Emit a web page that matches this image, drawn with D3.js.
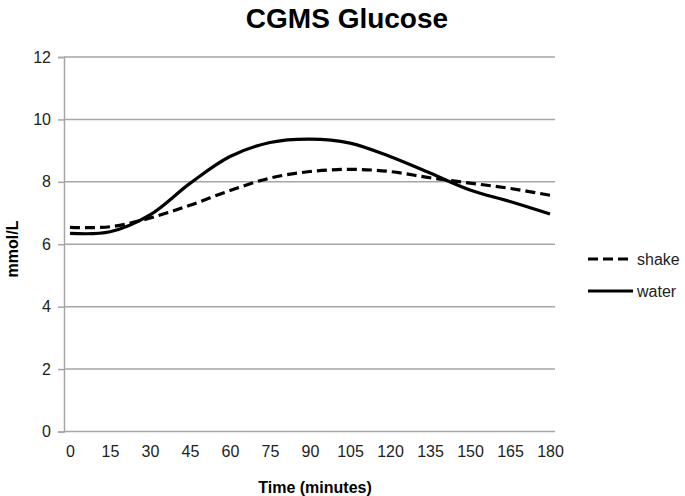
<!DOCTYPE html>
<html><head><meta charset="utf-8">
<script src="https://cdn.jsdelivr.net/npm/d3@7"></script>
<style>body{margin:0;background:#fff}svg{display:block}text{font-family:"Liberation Sans",Arial,sans-serif}</style>
</head><body>
<script>
const times = [0,15,30,45,60,75,90,105,120,135,150,165,180];
const shake = [6.54,6.56,6.84,7.25,7.72,8.12,8.33,8.4,8.33,8.13,7.96,7.79,7.57];
const water = [6.35,6.40,6.94,7.95,8.81,9.26,9.37,9.24,8.81,8.28,7.74,7.37,6.97];
const yTicks = [0,2,4,6,8,10,12];
const seriesNames = ["shake","water"];

const W=685,H=496;
const svg=d3.select("body").append("svg").attr("width",W).attr("height",H);
const plotL=64, plotR=555, plotT=57, plotB=431.5;
const x=d3.scaleLinear().domain([0,180]).range([70,550]);
const y=d3.scaleLinear().domain([0,12]).range([plotB,plotT]);
const grid="#a6a6a6";
const font="Liberation Sans, Arial, sans-serif";

svg.append("g").selectAll("line").data(yTicks).join("line")
  .attr("x1",plotL).attr("x2",plotR).attr("y1",d=>y(d)).attr("y2",d=>y(d))
  .attr("stroke",grid).attr("stroke-width",1.5);

const yAxis=d3.axisLeft(y).tickValues(yTicks).tickSize(6).tickPadding(7);
const gy=svg.append("g").attr("transform",`translate(${plotL},0)`).call(yAxis);
gy.select(".domain").attr("stroke",grid).attr("stroke-width",1.5);
gy.selectAll(".tick line").attr("stroke",grid).attr("stroke-width",1.5);
gy.selectAll("text").attr("font-size",16).attr("fill","#222").style("font-family",font);

const xAxis=d3.axisBottom(x).tickValues(times).tickSize(0).tickPadding(14);
const gx=svg.append("g").attr("transform",`translate(0,${plotB})`).call(xAxis);
gx.select(".domain").remove();
gx.selectAll("text").attr("font-size",16).attr("fill","#222").style("font-family",font);

const line=d3.line().x((d,i)=>x(times[i])).y(d=>y(d)).curve(d3.curveCatmullRom.alpha(0.5));
svg.append("path").datum(shake).attr("d",line).attr("fill","none").attr("stroke","#000")
  .attr("stroke-width",3.2).attr("stroke-dasharray","10,5");
svg.append("path").datum(water).attr("d",line).attr("fill","none").attr("stroke","#000")
  .attr("stroke-width",3.2);

svg.append("text").attr("x",347).attr("y",28).attr("text-anchor","middle")
  .attr("font-size",28).attr("font-weight","bold").attr("fill","#000").text("CGMS Glucose");
svg.append("text").attr("x",315).attr("y",493).attr("text-anchor","middle")
  .attr("font-size",16).attr("font-weight","bold").attr("fill","#000").text("Time (minutes)");
svg.append("text").attr("transform","translate(18,249) rotate(-90)").attr("text-anchor","middle")
  .attr("font-size",16).attr("font-weight","bold").attr("fill","#000").text("mmol/L");

const leg=svg.append("g");
const ly=[259,291];
seriesNames.forEach((n,i)=>{
  leg.append("line").attr("x1",588).attr("x2",633).attr("y1",ly[i]).attr("y2",ly[i])
    .attr("stroke","#000").attr("stroke-width",3.2).attr("stroke-dasharray",i===0?"10,5":null);
  leg.append("text").attr("x",637).attr("y",ly[i]+6).attr("font-size",16).attr("fill","#222").style("font-family",font).text(n);
});
</script>
</body></html>
